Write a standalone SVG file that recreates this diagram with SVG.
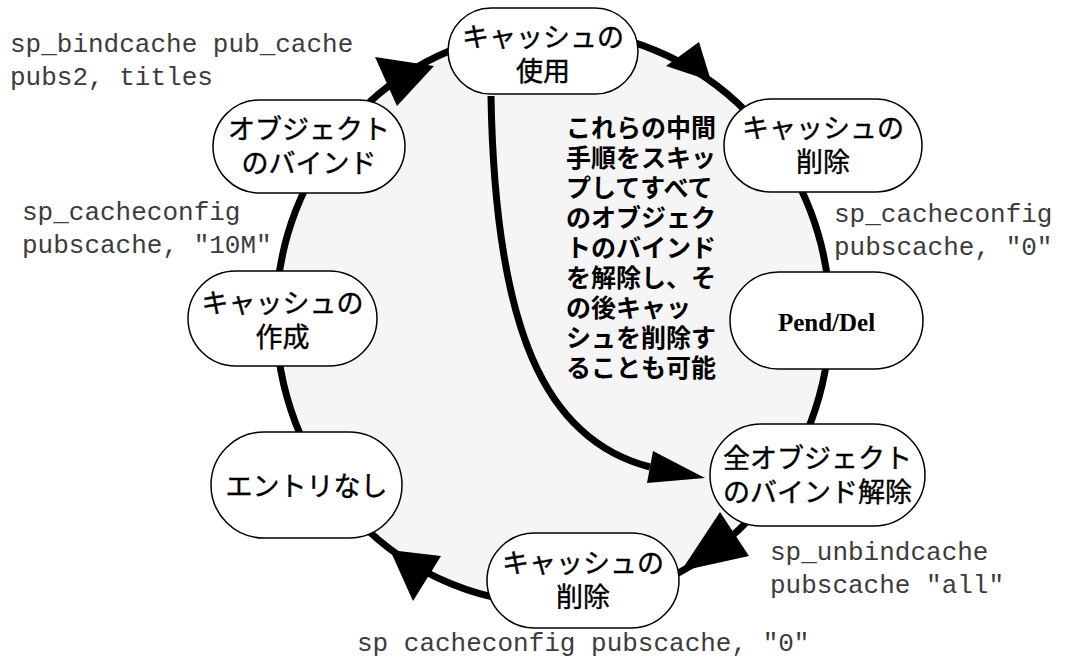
<svg xmlns="http://www.w3.org/2000/svg" width="1069" height="660" viewBox="0 0 1069 660">
<style>
.node rect{fill:#fff;stroke:#000;stroke-width:1.5}
.jp{font-family:"Noto Sans CJK JP","Noto Sans CJK SC",sans-serif;font-size:27px;font-weight:normal;fill:#000;stroke:#000;stroke-width:0.4;text-anchor:middle}
.pd{font-family:"Liberation Serif",serif;font-size:25px;font-weight:bold;fill:#000;text-anchor:middle}
.mono{font-family:"Liberation Mono","Courier New",monospace;font-size:26px;fill:#3c3c3c}
.note{font-family:"Noto Sans CJK JP","Noto Sans CJK SC",sans-serif;font-size:25px;font-weight:bold;fill:#000}
.ring{fill:#f5f5f5;stroke:#000;stroke-width:7}
.edge{fill:none;stroke:#000;stroke-width:7}
.head{fill:#000}
</style>
<g id="connectors">
<ellipse class="ring" cx="553" cy="317" rx="277" ry="287"/>
<path class="edge" d="M491 96 C495 330 545 440 650 467"/>
<polygon class="head" points="375,57 434,66 397,106"/>
<polygon class="head" points="666,66 699,42 711,81"/>
<polygon class="head" points="720,512 749,556 681,571"/>
<polygon class="head" points="390,550 441,556 413,601"/>
<polygon class="head" points="653,451 705,478 647,483"/>
</g>
<g id="node-use" class="node"><rect x="448" y="8" width="190" height="86" rx="43"/><text class="jp" x="543" y="47">キャッシュの</text><text class="jp" x="543" y="81">使用</text></g>
<g id="node-del1" class="node"><rect x="724" y="99" width="198" height="93" rx="46.5"/><text class="jp" x="823" y="138">キャッシュの</text><text class="jp" x="823" y="172">削除</text></g>
<g id="node-bind" class="node"><rect x="213" y="100" width="192" height="93" rx="46.5"/><text class="jp" x="309" y="139">オブジェクト</text><text class="jp" x="309" y="173">のバインド</text></g>
<g id="node-create" class="node"><rect x="188" y="271" width="189" height="95" rx="47.5"/><text class="jp" x="282.5" y="313">キャッシュの</text><text class="jp" x="282.5" y="347">作成</text></g>
<g id="node-pend" class="node"><rect x="730" y="272" width="193" height="97" rx="48.5"/><text class="pd" x="826.5" y="331">Pend/Del</text></g>
<g id="node-none" class="node"><rect x="211" y="432" width="191" height="106" rx="53"/><text class="jp" x="306.5" y="496">エントリなし</text></g>
<g id="node-unbind" class="node"><rect x="710" y="424" width="215" height="102" rx="51"/><text class="jp" x="817.5" y="468">全オブジェクト</text><text class="jp" x="817.5" y="502">のバインド解除</text></g>
<g id="node-del2" class="node"><rect x="487" y="533" width="192" height="95" rx="47.5"/><text class="jp" x="583" y="573">キャッシュの</text><text class="jp" x="583" y="607">削除</text></g>
<g id="labels">
<text class="mono" x="10" y="52">sp_bindcache pub_cache</text>
<text class="mono" x="10" y="85">pubs2, titles</text>
<text class="mono" x="22" y="220">sp_cacheconfig</text>
<text class="mono" x="22" y="253">pubscache, "10M"</text>
<text class="mono" x="834" y="222">sp_cacheconfig</text>
<text class="mono" x="834" y="255">pubscache, "0"</text>
<text class="mono" x="770" y="560">sp_unbindcache</text>
<text class="mono" x="770" y="593">pubscache "all"</text>
<text class="mono" x="357" y="651">sp cacheconfig pubscache, "0"</text>
</g>
<g id="note">
<text class="note" x="566" y="137">これらの中間</text>
<text class="note" x="566" y="167">手順をスキッ</text>
<text class="note" x="566" y="197">プしてすべて</text>
<text class="note" x="566" y="227">のオブジェク</text>
<text class="note" x="566" y="257">トのバインド</text>
<text class="note" x="566" y="287">を解除し、そ</text>
<text class="note" x="566" y="317">の後キャッ</text>
<text class="note" x="566" y="347">シュを削除す</text>
<text class="note" x="566" y="377">ることも可能</text>
</g>
</svg>
